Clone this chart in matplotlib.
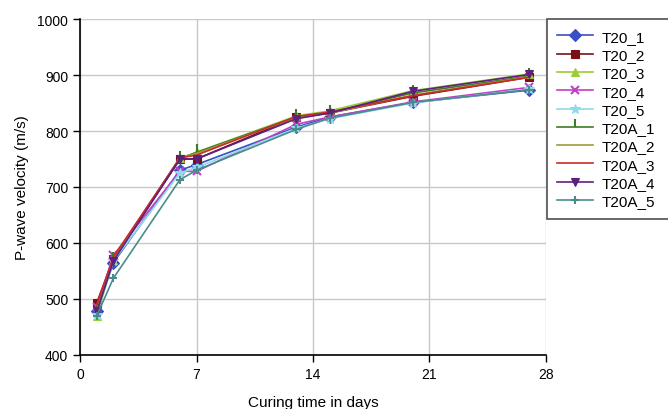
import matplotlib
matplotlib.use("Agg")
import matplotlib.pyplot as plt

plt.rcParams['font.family'] = ['Liberation Sans', 'DejaVu Sans']

days = [1, 2, 6, 7, 13, 15, 20, 27]

t20_1 = [478, 565, 730, 740, 807, 825, 851, 873]
t20_2 = [493, 572, 750, 750, 825, 832, 862, 896]
t20_3 = [470, 570, 752, 762, 827, 836, 872, 902]
t20_4 = [485, 578, 728, 728, 812, 825, 852, 878]
t20_5 = [472, 568, 725, 735, 805, 822, 850, 875]
t20a_1 = [475, 570, 750, 762, 825, 833, 868, 898]
t20a_2 = [480, 572, 752, 760, 824, 832, 864, 897]
t20a_3 = [490, 575, 752, 757, 826, 834, 863, 896]
t20a_4 = [478, 568, 750, 750, 822, 832, 871, 901]
t20a_5 = [470, 537, 713, 730, 803, 823, 851, 874]

# marker 2 = tick up
series = [
    ("T20_1", t20_1, "#3a4fc0", "D", 6),
    ("T20_2", t20_2, "#7a1015", "s", 6),
    ("T20_3", t20_3, "#9acd3a", "^", 6),
    ("T20_4", t20_4, "#c040c8", "x", 6),
    ("T20_5", t20_5, "#8fdce8", "*", 7),
    ("T20A_1", t20a_1, "#3f7a25", 2, 6),
    ("T20A_2", t20a_2, "#9c9c3a", None, 0),
    ("T20A_3", t20a_3, "#cc2a2a", None, 0),
    ("T20A_4", t20a_4, "#5e1f7e", "v", 6),
    ("T20A_5", t20a_5, "#4a8c8c", "+", 6),
]

fig = plt.figure(figsize=(6.68, 4.10), dpi=100)
ax = fig.add_axes([0.12, 0.132, 0.697, 0.819])

for name, vals, col, mk, ms in series:
    ax.plot(days, vals, color=col, marker=mk, markersize=ms, linewidth=1.2,
            markeredgewidth=1.5 if mk in ("x", 2, "+") else 0.8, label=name)

ax.set_xlim(0, 28)
ax.set_ylim(400, 1000)
ax.set_xticks([0, 7, 14, 21, 28])
ax.set_yticks(range(400, 1001, 100))
ax.grid(True, color="#c8c8c8", linewidth=1)
ax.set_axisbelow(True)
for s in ("top", "right"):
    ax.spines[s].set_visible(False)
ax.spines["left"].set_linewidth(1.2)
ax.spines["bottom"].set_linewidth(1.2)
ax.tick_params(labelsize=10, length=5, width=1)
ax.set_ylabel("P-wave velocity (m/s)", fontsize=11, labelpad=6)
ax.set_xlabel("Curing time in days", fontsize=11, labelpad=10)

leg = ax.legend(loc="upper left", bbox_to_anchor=(1.002, 1.0, 0.3, 0.0),
                mode="expand", fontsize=11,
                frameon=True, fancybox=False, handlelength=2.35,
                labelspacing=0.28, borderpad=0.7, handletextpad=0.55,
                borderaxespad=0.0)
leg.get_frame().set_edgecolor("#222222")
leg.get_frame().set_linewidth(1.2)

fig.savefig("out.png", dpi=100)
